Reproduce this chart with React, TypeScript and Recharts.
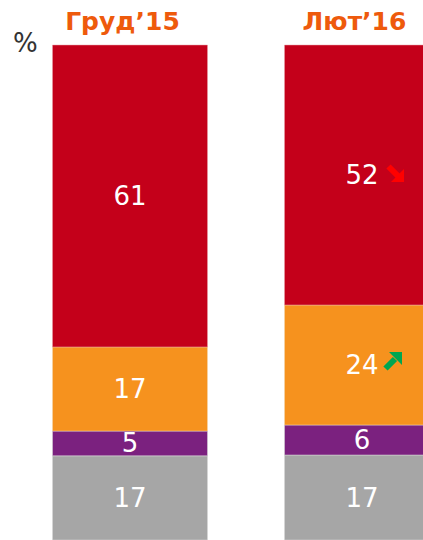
import React from 'react';
import { BarChart, Bar, XAxis, YAxis, LabelList } from 'recharts';

const periods = ['Груд’15', 'Лют’16'];
const greyShare = [17, 17];
const purpleShare = [5, 6];
const orangeShare = [17, 24];
const redShare = [61, 52];
// change markers shown next to a value (null = none)
const redTrend: (string | null)[] = [null, 'down'];
const orangeTrend: (string | null)[] = [null, 'up'];

const COLORS = {
    red: '#c4001a',
    orange: '#f6921e',
    purple: '#7b217f',
    grey: '#a6a6a6',
    header: '#ee5a0c',
};

const data = periods.map((p, i) => ({
    period: p,
    grey: greyShare[i],
    purple: purpleShare[i],
    orange: orangeShare[i],
    red: redShare[i],
}));

const FONT = '"DejaVu Sans", Verdana, sans-serif';

const Arrow = ({ x, y, dir }: { x: number; y: number; dir: string }) => {
    if (dir === 'down') {
        // red arrow pointing down-right
        return (
            <g>
                <line x1={x + 1.5} y1={y + 1.5} x2={x + 11} y2={y + 11} stroke="#ff0000" strokeWidth={6} />
                <polygon points={`${x + 17},${y + 17} ${x + 17},${y + 4} ${x + 4},${y + 17}`} fill="#ff0000" />
            </g>
        );
    }
    // green arrow pointing up-right
    return (
        <g>
            <line x1={x + 1.5} y1={y + 16.5} x2={x + 11} y2={y + 7} stroke="#00a651" strokeWidth={6} />
            <polygon points={`${x + 18},${y} ${x + 5},${y} ${x + 18},${y + 13}`} fill="#00a651" />
        </g>
    );
};

const makeLabel = (trend?: (string | null)[]) => (props: any) => {
    const { x, y, width, height, value, index } = props;
    const cx = Number(x) + Number(width) / 2;
    const cy = Number(y) + Number(height) / 2;
    const t = trend ? trend[index] : null;
    return (
        <g>
            <text x={cx} y={cy} fill="#fff" fontSize={26} fontFamily={FONT} textAnchor="middle" dominantBaseline="central">
                {value}
            </text>
            {t ? <Arrow x={cx + (t === 'down' ? 25 : 22)} y={cy + (t === 'down' ? -10 : -13)} dir={t} /> : null}
        </g>
    );
};

const HeaderTick = (props: any) => {
    const { x, payload } = props;
    return (
        <text x={x - 7} y={30} fill={COLORS.header} fontSize={25} fontWeight="bold" fontFamily={FONT} textAnchor="middle">
            {payload.value}
        </text>
    );
};

export default function App() {
    return (
        <div style={{ position: 'fixed', left: 0, top: 0, width: 423, height: 540, overflow: 'hidden', background: '#fff' }}>
            <div style={{ position: 'absolute', left: 13, top: 30, fontFamily: FONT, fontSize: 26, color: '#333', lineHeight: 1 }}>%</div>
            <BarChart
                width={490}
                height={540}
                data={data}
                stackOffset="expand"
                barSize={155}
                margin={{ top: 0, right: 12.5, left: 13.5, bottom: 0 }}
            >
                <XAxis
                    dataKey="period"
                    orientation="top"
                    height={45}
                    axisLine={false}
                    tickLine={false}
                    tick={<HeaderTick />}
                    interval={0}
                />
                <YAxis hide domain={[0, 1]} />
                <Bar dataKey="grey" stackId="a" fill={COLORS.grey} stroke="#d8d8d8" strokeWidth={0.5} isAnimationActive={false}>
                    <LabelList dataKey="grey" content={makeLabel()} />
                </Bar>
                <Bar dataKey="purple" stackId="a" fill={COLORS.purple} stroke="#d8d8d8" strokeWidth={0.5} isAnimationActive={false}>
                    <LabelList dataKey="purple" content={makeLabel()} />
                </Bar>
                <Bar dataKey="orange" stackId="a" fill={COLORS.orange} stroke="#f2d8b0" strokeWidth={0.5} isAnimationActive={false}>
                    <LabelList dataKey="orange" content={makeLabel(orangeTrend)} />
                </Bar>
                <Bar dataKey="red" stackId="a" fill={COLORS.red} stroke="#e8a0a8" strokeWidth={0.5} isAnimationActive={false}>
                    <LabelList dataKey="red" content={makeLabel(redTrend)} />
                </Bar>
            </BarChart>
        </div>
    );
}
